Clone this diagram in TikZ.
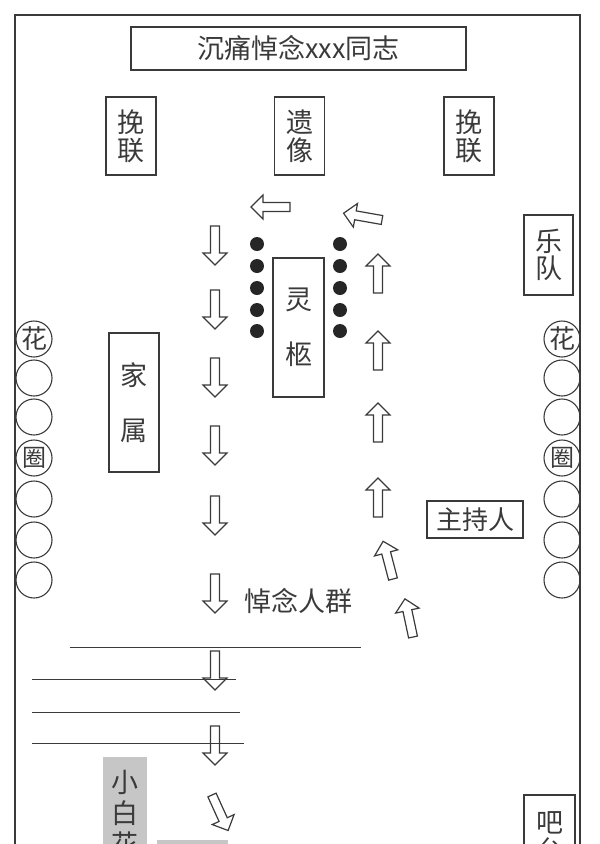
\documentclass[tikz,border=0pt]{standalone}
\usepackage{fontspec}
\setmainfont{Noto Sans CJK SC}
\newcommand\fsz[2]{\fontsize{#1}{#2}\selectfont}
\definecolor{ink}{HTML}{3A3A3A}
\definecolor{grayfill}{HTML}{C6C6C6}
\begin{document}
\begin{tikzpicture}[x=1pt,y=-1pt,
  box/.style={draw=ink, line width=1.3pt, text=ink, inner sep=0pt, align=center},
  vbox/.style={box, minimum width=50pt, minimum height=78pt, font=\fsz{27}{28}},
  tallbox/.style={box, minimum width=50pt, minimum height=139pt, font=\fsz{27}{55}},
  circ/.style={circle, draw=ink, line width=1.1pt, minimum size=36pt, inner sep=0pt, text=ink},
  dot/.style={circle, fill=black!85, minimum size=14pt, inner sep=0pt},
  frameline/.style={draw=ink, line width=1.4pt},
  thinline/.style={draw=ink, line width=0.9pt},
  arrowline/.style={draw=ink, line width=1.2pt, line join=miter},
  blockarrow/.pic={\path[arrowline] (-4.5,0) -- (-4.5,27) -- (-12,27) -- (0,39) -- (12,27) -- (4.5,27) -- (4.5,0) -- cycle;}
]
\useasboundingbox (0,0) rectangle (600,844);
\clip (0,0) rectangle (600,844);

% outer frame
\draw[frameline] (15,870) -- (15,15) -- (580,15) -- (580,870);

% top
\node[box, minimum width=335pt, minimum height=43pt, font=\fsz{27}{30}] (title) at (298.5,48.5) {沉痛悼念xxx同志};
\node[vbox] (lianL) at (131,136) {挽\\联};
\node[vbox] (photo) at (299.5,136) {遗\\像};
\node[vbox] (lianR) at (469,136) {挽\\联};

% coffin and family
\node[tallbox, minimum width=51pt] (coffin) at (298.5,327.5) {灵\\柩};
\node[tallbox] (family) at (134,402.5) {家\\属};

% band, host, bar
\node[box, minimum width=49pt, minimum height=80pt, font=\fsz{27}{27}] (band) at (548.5,255) {乐\\队};
\node[box, minimum width=96pt, minimum height=37pt, font=\fsz{26}{26}] (host) at (475,519.5) {主持人};
\node[box, minimum width=51pt, minimum height=85pt, font=\fsz{27}{28}] (bar) at (549.5,837.5) {吧\\台};

% dots
\foreach \y [count=\i] in {244,266,288,310,331}{
  \node[dot] (dl\i) at (257,\y) {};
  \node[dot] (dr\i) at (340,\y) {};
}

% wreaths
\foreach \y [count=\i] in {339,378,417,458,499,540,580}{
  \node[circ] (wl\i) at (34,\y) {};
  \node[circ] (wr\i) at (562,\y) {};
}
\node[text=ink, font=\fsz{26}{26}, inner sep=0pt] (hl) at (wl1) {花};
\node[text=ink, font=\fsz{24}{24}, inner sep=0pt] (ql) at (wl4) {圈};
\node[text=ink, font=\fsz{26}{26}, inner sep=0pt] (hr) at (wr1) {花};
\node[text=ink, font=\fsz{24}{24}, inner sep=0pt] (qr) at (wr4) {圈};

% crowd label
\node[text=ink, font=\fsz{27}{27}, inner sep=0pt] (crowd) at (298.5,601) {悼念人群};

% down arrows
\foreach \y in {226,290,358,426,496,574,651,726}{
  \pic at (215,\y) {blockarrow};
}
\pic[rotate=24.4] at (212,795) {blockarrow};
% up arrows
\foreach \y in {293,370,442,517}{
  \pic[rotate=180] at (378,\y) {blockarrow};
}
\pic[rotate=194.7] at (393,579) {blockarrow};
\pic[rotate=192] at (413,637) {blockarrow};
% top arrows
\pic[rotate=-90] at (290,207) {blockarrow};
\pic[rotate=260] at (382,220) {blockarrow};

% lines
\draw[thinline] (70,647) -- (361,647);
\draw[thinline] (32,679) -- (236,679);
\draw[thinline] (32,712) -- (240,712);
\draw[thinline] (32,743) -- (244,743);

% grey boxes
\node[fill=grayfill, minimum width=44pt, minimum height=112pt, inner sep=0pt, align=center, font=\fsz{27}{31}, text=ink] (xbh) at (125,813) {小\\白\\花};
\node[fill=grayfill, minimum width=71pt, minimum height=40pt, inner sep=0pt] (g2) at (192.5,860) {};
\end{tikzpicture}
\end{document}
